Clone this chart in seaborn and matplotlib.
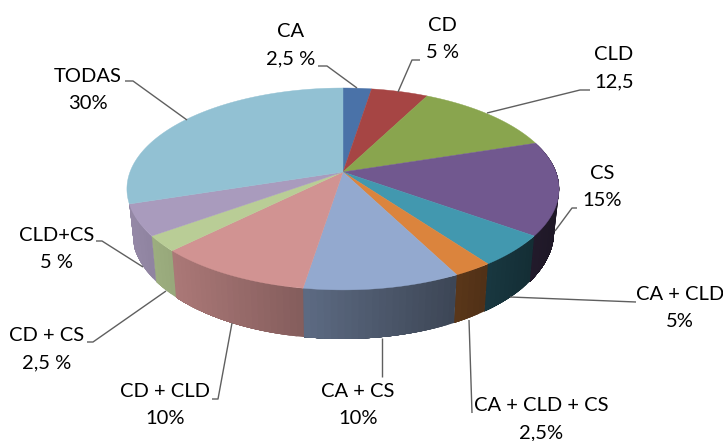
import numpy as np
import matplotlib
matplotlib.use("Agg")
import matplotlib.pyplot as plt
from matplotlib.collections import PolyCollection
import seaborn as sns

categories = ["CA", "CD", "CLD", "CS", "CA + CLD", "CA + CLD + CS",
              "CA + CS", "CD + CLD", "CD + CS", "CLD+CS", "TODAS"]
values = [2.5, 5, 12.5, 15, 5, 2.5, 10, 10, 2.5, 5, 30]
value_labels = ["2,5 %", "5 %", "12,5", "15%", "5%", "2,5%",
                "10%", "10%", "2,5 %", "5 %", "30%"]
colors = ["#4A72A8", "#A64544", "#89A54E", "#71588F", "#4298AF", "#DB843D",
          "#93A9CF", "#D19392", "#B9CD96", "#A99BBD", "#92C1D3"]

# layout (pixels of the 723x441 canvas)
label_pos = [(291, 45), (442, 39), (614, 68), (602, 187), (680, 308),
             (541, 419), (358, 405), (165, 405), (47, 349), (57, 249), (88, 90)]
leaders = [
    [(318, 66), (327, 66), (357, 88)],
    [(420, 60), (412, 60), (398, 92)],
    [(590, 90), (580, 90), (487, 113)],
    [(577, 208), (572, 208), (555, 231)],
    [(636, 302), (510, 297)],
    [(472, 413), (469, 320)],
    [(382, 377), (382, 338)],
    [(212, 399), (218, 399), (232, 323)],
    [(87, 342), (93, 342), (166, 291)],
    [(96, 241), (102, 241), (143, 267)],
    [(125, 81), (133, 81), (187, 120)],
]

sns.set_theme(style="white")
plt.rcParams["font.family"] = ["Lato", "DejaVu Sans"]
palette = sns.color_palette(colors)

CX, CY, KP, AY, BX = 343.0, 172.0, 0.168, 98.1, 213.0


def top_xy(theta):
    x, y = np.sin(theta), np.cos(theta)
    w = 1 + KP * y
    return CX + BX * x / w, CY - AY * y / w


def bottom_xy(theta):
    X, Y = top_xy(theta)
    return CX + 0.977 * (X - CX), Y + 41 - 8 * np.cos(theta)


def shade(X):
    return np.clip(0.88 - (X - 129) * 0.58 / 406, 0.25, 0.95)


fig = plt.figure(figsize=(7.23, 4.41), dpi=100)
ax = fig.add_axes([0, 0, 1, 1])
ax.set_xlim(0, 723)
ax.set_ylim(441, 0)
ax.axis("off")

edges = np.cumsum([0] + values) / np.sum(values) * 2 * np.pi

# side wall: only the slices facing the viewer, as overlapping bands per slice
vis_lo, vis_hi = edges[3], edges[10]
for i in range(len(values)):
    lo, hi = max(edges[i], vis_lo), min(edges[i + 1], vis_hi)
    if hi <= lo:
        continue
    n = max(int((hi - lo) / np.radians(1.5)), 1)
    ts = np.linspace(lo, hi, n + 1)
    polys, cols = [], []
    for k in range(n):
        a = ts[k]
        mid = (ts[k] + ts[k + 1]) / 2
        sub = np.linspace(a, hi, max(int((hi - a) / np.radians(0.5)), 2))
        tx, ty = top_xy(sub)
        bx, by = bottom_xy(sub[::-1])
        polys.append(np.column_stack([np.r_[tx, bx], np.r_[ty, by]]))
        cols.append(tuple(np.array(palette[i]) * shade(top_xy(mid)[0])))
    ax.add_collection(PolyCollection(polys, facecolors=cols, edgecolors="none",
                                     linewidths=0, zorder=2))

# top face
for i in range(len(values)):
    ts = np.linspace(edges[i], edges[i + 1], 120)
    xs, ys = top_xy(ts)
    ax.fill(np.r_[CX, xs], np.r_[CY, ys], color=palette[i], lw=0.3, zorder=3)

# leader lines
for pts in leaders:
    xs, ys = zip(*pts)
    ax.plot(xs, ys, color="#5f5f5f", lw=1.0, zorder=4, solid_capstyle="butt")

# labels
for name, val, (x, y) in zip(categories, value_labels, label_pos):
    ax.text(x, y, f"{name}\n{val}", ha="center", va="center", fontsize=14.5,
            linespacing=1.76, color="black", zorder=5)

fig.savefig("out.png", dpi=100, facecolor="white")
